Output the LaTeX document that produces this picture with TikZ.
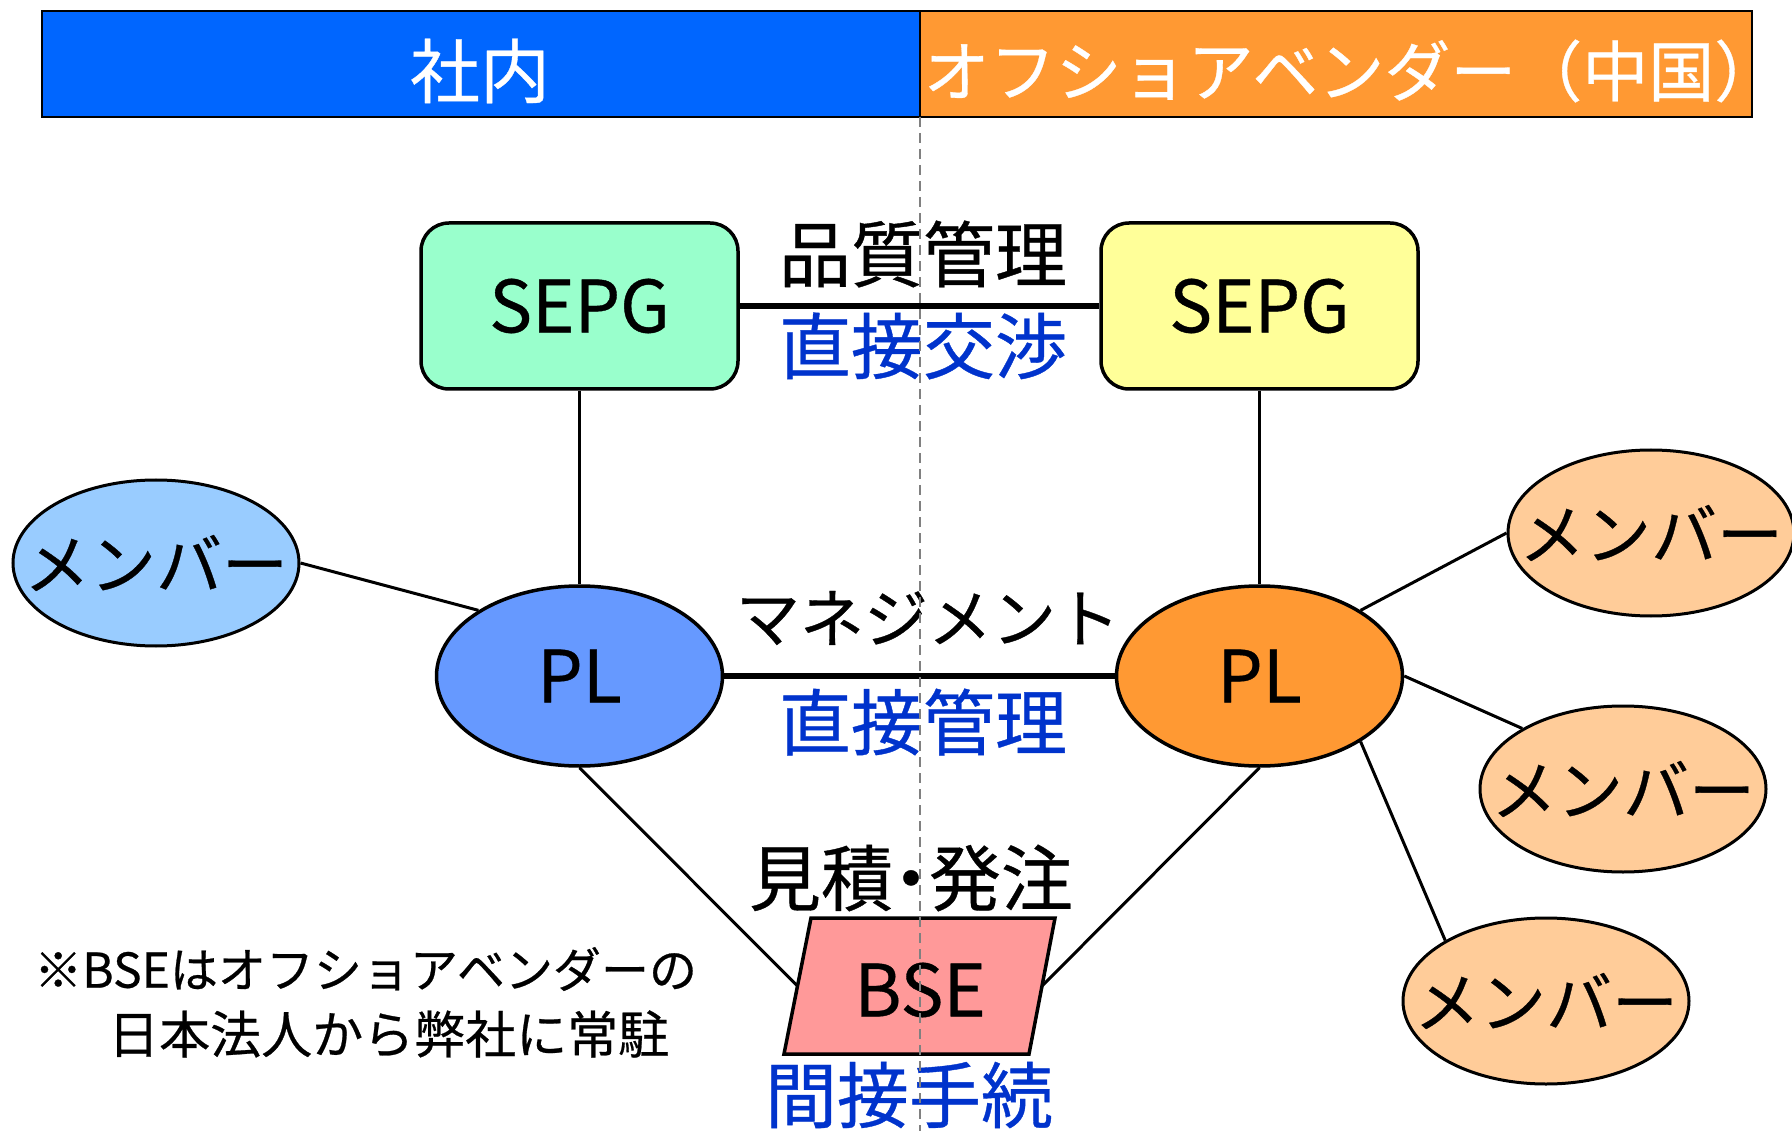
\documentclass[tikz,border=0pt]{standalone}
\usepackage{fontspec}
\setmainfont{Noto Sans CJK JP}[FakeBold=0.5]
\usetikzlibrary{shapes.geometric}
\definecolor{barblue}{HTML}{0066FF}
\definecolor{barorange}{HTML}{FF9933}
\definecolor{sepgL}{HTML}{99FFCC}
\definecolor{sepgR}{HTML}{FFFF99}
\definecolor{plblue}{HTML}{6699FF}
\definecolor{plorange}{HTML}{FF9933}
\definecolor{memblue}{HTML}{99CCFF}
\definecolor{memorange}{HTML}{FFCC99}
\definecolor{bsepink}{HTML}{FF9999}
\definecolor{txtblue}{HTML}{0033CC}
\begin{document}
\begin{tikzpicture}[x=1pt,y=-1pt,
  barbox/.style={draw=black, line width=2pt},
  bartext/.style={text=white, font=\fontsize{66}{70}\selectfont, inner sep=0pt},
  sepgbox/.style={draw=black, line width=3.5pt, rounded corners=28pt, minimum width=317pt, minimum height=166pt, inner sep=0pt, font=\fontsize{72}{76}\selectfont},
  plnode/.style={ellipse, draw=black, line width=3.5pt, minimum width=286pt, minimum height=180pt, inner sep=0pt},
  memnode/.style={ellipse, draw=black, line width=3pt, minimum width=286pt, minimum height=166pt, inner sep=0pt},
  inlabel/.style={inner sep=0pt, font=\fontsize{72}{76}\selectfont},
  memlabel/.style={inner sep=0pt, font=\fontsize{66}{70}\selectfont},
  lbl/.style={inner sep=0pt, font=\fontsize{72}{76}\selectfont},
  lblblue/.style={lbl, text=txtblue},
  thin/.style={draw=black, line width=3pt},
  thick/.style={draw=black, line width=6.5pt},
  notetext/.style={inner sep=0pt, anchor=west}
]
\useasboundingbox (0,0) rectangle (1792,1131);
% top bar
\filldraw[barbox, fill=barblue] (42,11) rectangle (920,117);
\filldraw[barbox, fill=barorange] (920,11) rectangle (1752,117);
\node[bartext, font=\fontsize{70}{74}\selectfont] (inhouse) at (480,71) {社内};
\node[bartext] (offshore) at (1352,71) {オフショアベンダー（中国）};

% nodes
\node[sepgbox, fill=sepgL] (sepgl) at (579.5,306) {SEPG};
\node[sepgbox, fill=sepgR] (sepgr) at (1259.5,306) {SEPG};
\node[plnode, fill=plblue, label={[inlabel]center:PL}] (pll) at (579.5,676) {};
\node[plnode, fill=plorange, label={[inlabel]center:PL}] (plr) at (1259.5,676) {};
\node[memnode, fill=memblue, label={[memlabel]center:メンバー}] (meml) at (156,563) {};
\node[memnode, fill=memorange, label={[memlabel]center:メンバー}] (mem1) at (1651,533) {};
\node[memnode, fill=memorange, label={[memlabel]center:メンバー}] (mem2) at (1623,789) {};
\node[memnode, fill=memorange, label={[memlabel]center:メンバー}] (mem3) at (1546,1001) {};

% BSE parallelogram
\filldraw[draw=black, line width=3.5pt, fill=bsepink, line join=miter]
  (811,918) -- (1055,918) -- (1029,1054) -- (784,1054) -- cycle;
\coordinate (bsel) at (797.5,986);
\coordinate (bser) at (1042,986);
\node[inlabel] (bse) at (920,990) {BSE};

% connectors
\draw[thick] (sepgl.east) -- (sepgr.west);
\draw[thick] (pll.east) -- (plr.west);
\draw[thin] (sepgl.south) -- (pll.north);
\draw[thin] (sepgr.south) -- (plr.north);
\draw[thin] (meml.east) -- (pll.147);
\draw[thin] (plr.33) -- (mem1.west);
\draw[thin] (plr.east) -- (mem2.149);
\draw[thin] (plr.-33) -- (mem3.149);
\draw[thin] (pll.south) -- (bsel);
\draw[thin] (plr.south) -- (bser);

% labels
\node[lbl] (quality) at (923,254) {品質管理};
\node[lblblue] (nego) at (923,346) {直接交渉};
\node[lbl, font=\fontsize{64}{68}\selectfont] (mgmt) at (928,618) {マネジメント};
\node[lblblue] (direct) at (923,722) {直接管理};
\node[lbl] (order) at (911,878) {見積\hspace{-0.25em}・\hspace{-0.25em}発注};
\node[lblblue] (indirect) at (909,1095) {間接手続};

\node[notetext, font=\fontsize{48}{52}\selectfont] (note1) at (34,969) {※BSEはオフショアベンダーの};
\node[notetext, font=\fontsize{51}{55}\selectfont] (note2) at (108,1034) {日本法人から弊社に常駐};

% dashed divider
\coordinate (divtop) at (920,117);
\coordinate (divbot) at (920,1131);
\draw[gray, line width=2pt, dash pattern=on 10pt off 6pt] (divtop) -- (divbot);
\end{tikzpicture}
\end{document}
